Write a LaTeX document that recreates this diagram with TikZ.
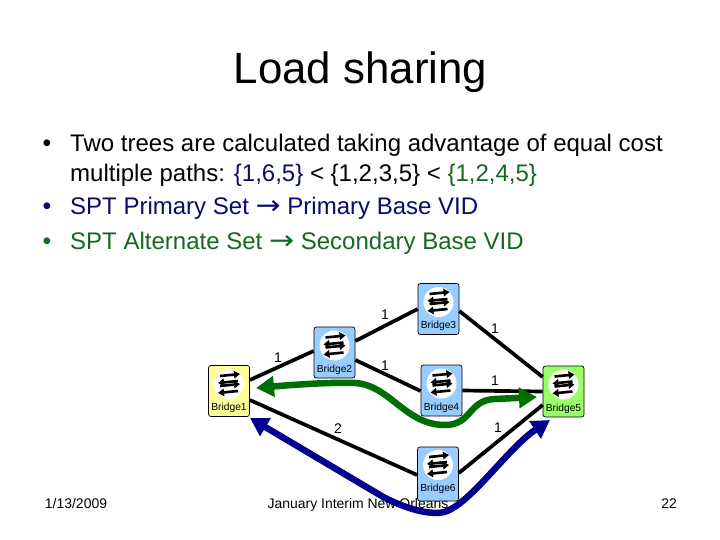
\documentclass[tikz,border=0pt]{standalone}
\usepackage{fontspec}
\setmainfont{Liberation Sans}
\usetikzlibrary{arrows.meta}
\definecolor{bluebox}{RGB}{153,204,255}
\definecolor{yelbox}{RGB}{255,255,153}
\definecolor{grnbox}{RGB}{153,255,102}
\definecolor{pgreen}{RGB}{0,110,0}
\definecolor{pblue}{RGB}{0,0,140}
\definecolor{tgreen}{RGB}{20,105,30}
\definecolor{tblue}{RGB}{10,10,110}
\tikzset{x=1bp,y=-1bp,
 bridge/.style={draw=black,line width=0.7bp,rounded corners=2.5bp,minimum width=41bp,minimum height=51bp,inner sep=0pt},
 link/.style={line width=3.7bp,black},
 tree/.style={line width=6.5bp,{Triangle[length=18bp,width=20bp]}-{Triangle[length=18bp,width=20bp]}},
 lbl/.style={font=\fontsize{14}{14}\selectfont,inner sep=0pt},
 capt/.style={font=\fontsize{10.3}{10.3}\selectfont,inner sep=0pt},
 body/.style={font=\fontsize{24.1}{24.1}\selectfont,inner sep=0pt,anchor=base west},
 bul/.style={font=\fontsize{25}{25}\selectfont,inner sep=0pt,anchor=base},
 foot/.style={font=\fontsize{14}{14}\selectfont,inner sep=0pt,anchor=base},
 iconarrow/.style={line width=2.6bp,-{Triangle[length=6bp,width=7.5bp]}}
}
\newcommand{\bridgeicon}[3]{% name, x, y of centre
 \fill[white] (#2,#3-7) circle (15bp);
 \draw[iconarrow] (#2-9,#3-15) -- (#2+11,#3-17);
 \draw[iconarrow] (#2+9,#3-10) -- (#2-11,#3-8);
 \draw[iconarrow] (#2-9,#3-5) -- (#2+11,#3-7);
 \draw[iconarrow] (#2+9,#3) -- (#2-11,#3+2);
 \node[capt] (cap#1) at (#2,#3+17) {#1};
}
\newcommand{\arrowglyph}{\scalebox{1.25}[1.1]{\fontspec{DejaVu Sans}→}}
\begin{document}
\begin{tikzpicture}
\useasboundingbox (0,0) rectangle (720,540);
\fill[white] (0,0) rectangle (720,540);
\node[font=\fontsize{44}{44}\selectfont,inner sep=0pt,anchor=base] (title) at (360.5,84) {Load sharing};
\node[bul] (b1) at (47,152) {•};
\node[body] (t1) at (70,152) {Two trees are calculated taking advantage of equal cost};
\node[body] (t2) at (70,182) {multiple paths: \textcolor{tblue}{\{1,6,5\}} < \{1,2,3,5\} < \textcolor{tgreen}{\{1,2,4,5\}}};
\node[bul,text=tblue] (b2) at (47,215) {•};
\node[body,text=tblue] (t3) at (70,215) {SPT Primary Set \arrowglyph{} Primary Base VID};
\node[bul,text=tgreen] (b3) at (47,250) {•};
\node[body,text=tgreen] (t4) at (70,250) {SPT Alternate Set \arrowglyph{} Secondary Base VID};
\node[foot] (date) at (76,508) {1/13/2009};
\node[foot] (conf) at (358,508) {January Interim New Orleans};
\node[foot] (page) at (669,508) {22};

\node[bridge,fill=yelbox] (B1) at (229,391) {};
\node[bridge,fill=bluebox] (B2) at (334.5,352.5) {};
\node[bridge,fill=bluebox] (B3) at (438.5,309) {};
\node[bridge,fill=bluebox] (B4) at (441.5,390.5) {};
\node[bridge,fill=grnbox] (B5) at (563.5,391.5) {};
\node[bridge,fill=bluebox,minimum height=54bp] (B6) at (438,474) {};

\draw[link] (B1.east |- 0,380) -- (B2.west |- 0,351);
\draw[link] (B2.east |- 0,341) -- (B3.west |- 0,309);
\draw[link] (B2.east |- 0,360) -- (B4.west |- 0,391);
\draw[link] (B3.east |- 0,311) -- (B5.west |- 0,377);
\draw[link] (B4.east) -- (B5.west);
\draw[link] (B1.east |- 0,400) -- (B6.west |- 0,475);
\draw[link] (B6.east |- 0,473) -- (B5.west |- 0,405);

\bridgeicon{Bridge1}{229}{391}
\bridgeicon{Bridge2}{334.5}{352.5}
\bridgeicon{Bridge3}{438.5}{309}
\bridgeicon{Bridge4}{441.5}{390.5}
\bridgeicon{Bridge5}{563.5}{391.5}
\bridgeicon{Bridge6}{438}{472}

\coordinate (g1) at (537,397);
\coordinate (g2) at (256,388);
\draw[tree,pgreen] (g2) .. controls (290,385) and (330,382) .. (355,383) .. controls (390,385) and (405,425) .. (445,425) .. controls (472,425) and (468,400) .. (495,399) -- (g1);
\coordinate (n1) at (250,418);
\coordinate (n2) at (550,420);
\draw[tree,pblue] (n1) -- (385,498) .. controls (410,510) and (425,513) .. (438,513) .. controls (465,513) and (505,450) .. (n2);

\node[lbl] (l1) at (278,358) {1};
\node[lbl] (l2) at (385,315) {1};
\node[lbl] (l3) at (385,366) {1};
\node[lbl] (l4) at (495,329) {1};
\node[lbl] (l5) at (495,381) {1};
\node[lbl] (l6) at (338,429) {2};
\node[lbl] (l7) at (498,428) {1};
\end{tikzpicture}
\end{document}
